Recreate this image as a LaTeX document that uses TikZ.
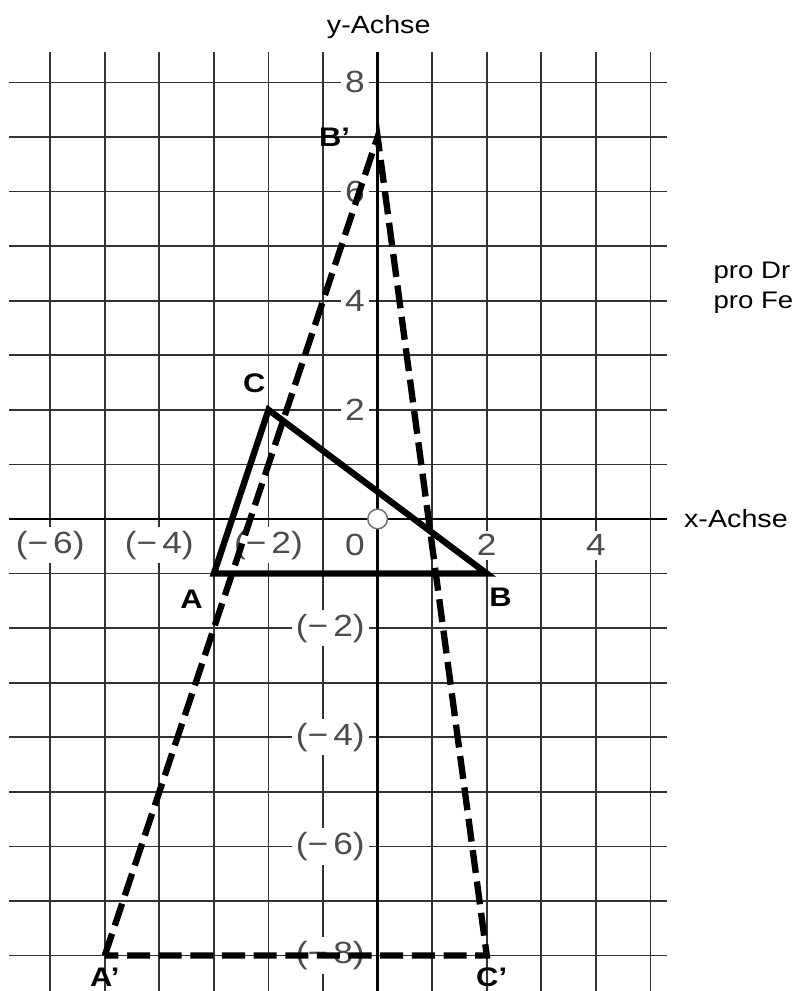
\documentclass[tikz,border=0pt]{standalone}
\usepackage{fontspec}
\setmainfont[FakeStretch=1.15]{Liberation Sans}
\usetikzlibrary{positioning,calc}

\begin{document}
\begin{tikzpicture}[
      gridline/.style={draw=black!80, line width=0.9pt},
      axisline/.style={draw=black, line width=1.4pt},
      numlabel/.style={fill=white, inner sep=2pt, text=black!70, font=\fontsize{16}{16}\selectfont},
      ptlabel/.style={inner sep=0pt, font=\fontsize{14}{15}\selectfont\bfseries},
      axislabel/.style={inner sep=0pt, font=\fontsize{13}{14}\selectfont},
      notelabel/.style={inner sep=0pt, font=\fontsize{12.5}{13}\selectfont},
      origin/.style={circle, draw=black!55, fill=white, line width=0.8pt, minimum size=0.36cm, inner sep=0pt},
      tri/.style={draw, line width=3.3pt},
      imagetri/.style={draw, line width=3.3pt, dash pattern=on 12pt off 4.5pt}
    ]
    \fill[white] (-6.92,-8.65) rectangle (7.61,9.51);
    \useasboundingbox (-6.92,-8.65) rectangle (7.61,9.51);

    % Raster
    \foreach \x in {-6,...,5}
      \draw[gridline] (\x,8.55) -- (\x,-8.7);
    \foreach \y in {-8,...,8}
      \draw[gridline] (-6.75,\y) -- (5.3,\y);
    \draw[axisline] (0,8.55) -- (0,-8.7);
    \draw[axisline, line width=1.1pt] (-6.75,0) -- (5.3,0);

    % Zahlen an den Achsen
    \foreach \y/\t in {8/8,6/6,4/4,2/2,-2/{(−\,2)},-4/{(−\,4)},-6/{(−\,6)},-8/{(−\,8)}}
      \node[numlabel, anchor=east] (ylab\y) at (-0.16,\y) {\t};
    \foreach \x/\t in {-6/{(−\,6)},-4/{(−\,4)},-2/{(−\,2)},2/2,4/4}
      \node[numlabel] (xlab\x) at (\x,-0.48) {\t};
    \node[numlabel, anchor=east] (xlab0) at (-0.16,-0.48) {0};
    \node[origin] (O) at (0,0) {};

    \node[axislabel, anchor=base] (yaxis) at (0.02,8.9) {y-Achse};
    \node[axislabel, anchor=base west] (xaxis) at (5.61,-0.165) {x-Achse};
    \node[notelabel, anchor=base west] (noteA) at (6.15,4.40) {pro Dr};
    \node[notelabel, anchor=base west] (noteB) at (6.15,3.85) {pro Fe};

    % Dreieck ABC und Bilddreieck
    \coordinate (A) at (-3,-1);
    \coordinate (B) at (2,-1);
    \coordinate (C) at (-2,2);
    \coordinate (A1) at (-5,-8);
    \coordinate (B1) at (0,7);
    \coordinate (C1) at (2,-8);

    \draw[tri] (A) -- (B) -- (C) -- cycle;
    \draw[imagetri] (A1) -- (B1) -- (C1) -- cycle;

    \node[ptlabel, below left=0.29cm and 0.2cm of A] (lA) {A};
    \node[ptlabel, below right=0.26cm and 0.04cm of B] (lB) {B};
    \node[ptlabel, above left=0.31cm and 0.05cm of C] (lC) {C};
    \node[ptlabel, below=0.22cm of A1] (lA1) {A’};
    \node[ptlabel, left=0.5cm of B1] (lB1) {B’};
    \node[ptlabel, below=0.22cm of C1, xshift=0.09cm] (lC1) {C’};
  \end{tikzpicture}
\end{document}
